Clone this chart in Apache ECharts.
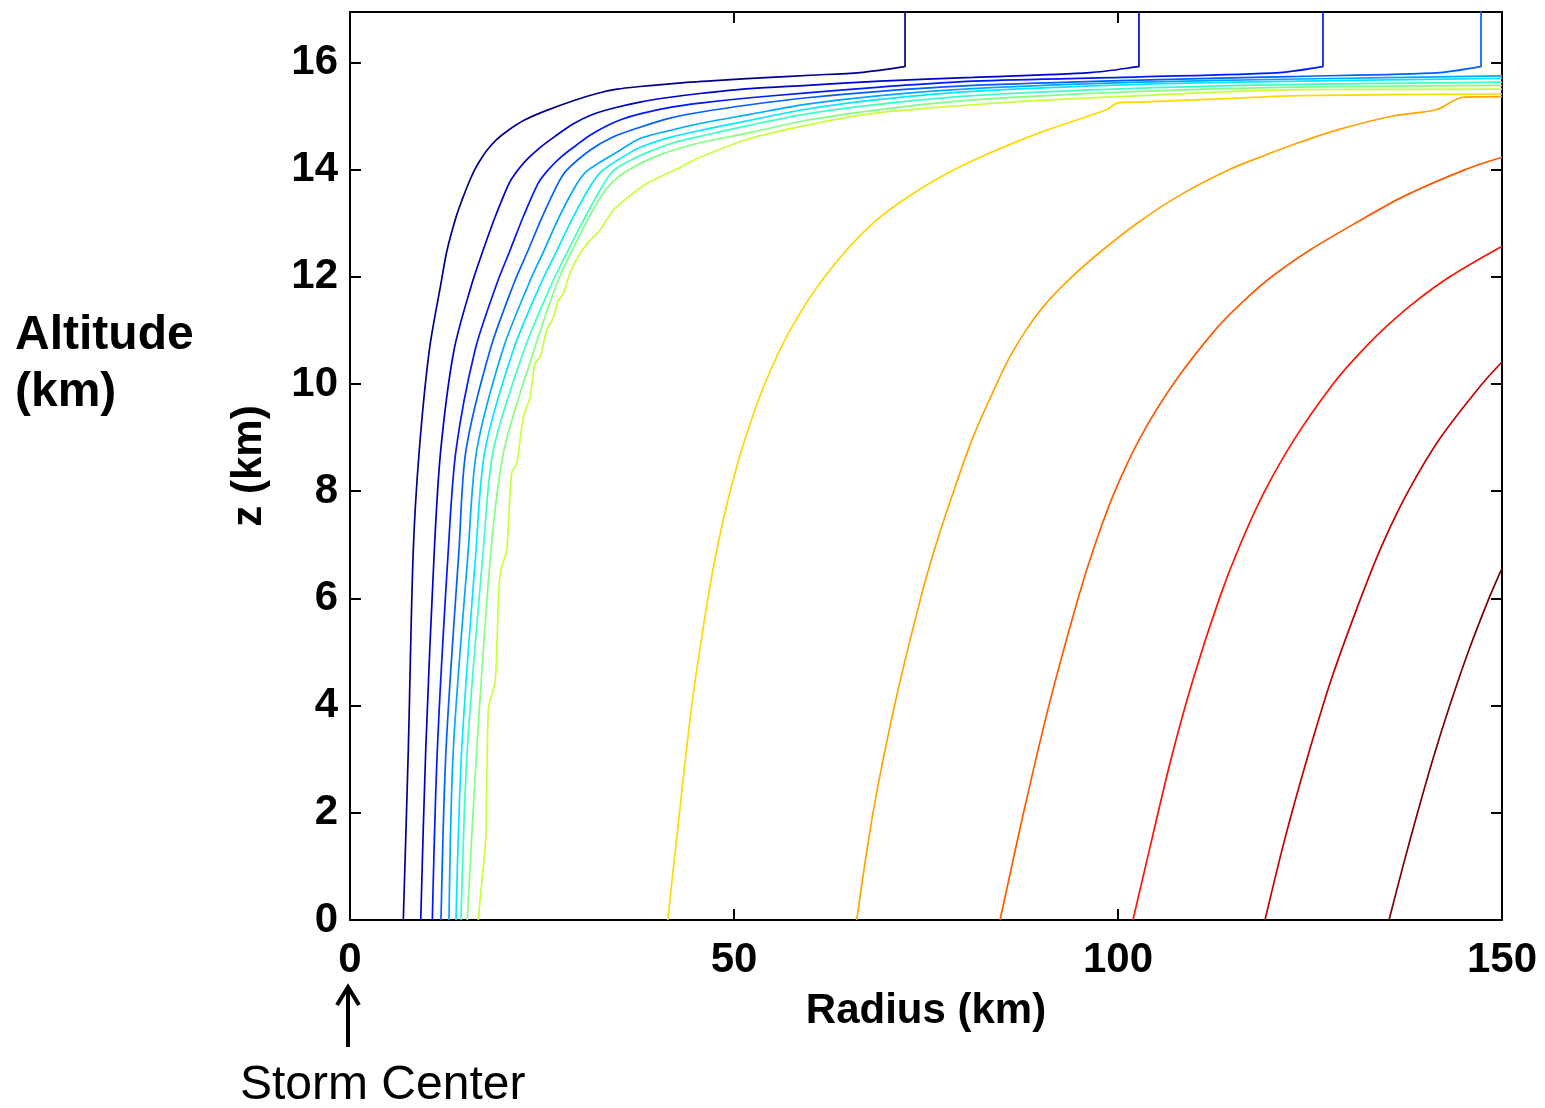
<!DOCTYPE html>
<html>
<head>
<meta charset="utf-8">
<script src="https://cdn.jsdelivr.net/npm/echarts@6/dist/echarts.min.js"></script>
<style>
  html, body { margin: 0; padding: 0; background: #ffffff; }
  #chart { width: 1545px; height: 1108px; }
</style>
</head>
<body>
<div id="chart"></div>
<script>
// Angular-momentum contours of the storm, each as [radius (km), altitude (km)] pairs.
// Innermost contour first; the first four turn upward into the stratosphere.
const contour01 = [[6.94,0],[7.59,3.17],[8.24,6.90],[9.02,8.76],[10.33,10.63],[11.85,11.88],[12.63,12.49],[13.80,13.11],[14.58,13.43],[15.43,13.74],[16.21,13.99],[16.93,14.17],[17.84,14.36],[19.01,14.55],[20.57,14.73],[22.66,14.92],[25.52,15.10],[29.17,15.29],[32.16,15.42],[34.77,15.50],[37.76,15.55],[42.32,15.61],[47.53,15.66],[54.69,15.72],[59.90,15.76],[66.41,15.81],[72.2,15.92],[72.27,15.93],[72.27,15.96],[72.27,17.2]];
const contour02 = [[9.21,0],[9.86,3.17],[10.98,6.90],[11.81,8.76],[13.54,10.63],[15.89,11.88],[17.32,12.49],[18.88,13.11],[20.70,13.74],[21.74,13.97],[23.05,14.19],[24.74,14.41],[26.69,14.62],[29.04,14.85],[31.25,15.01],[34.11,15.14],[37.76,15.26],[41.67,15.35],[45.57,15.42],[52.08,15.51],[59.51,15.57],[69.01,15.65],[81.12,15.72],[96.35,15.81],[102.66,15.92],[102.73,15.93],[102.73,15.96],[102.73,17.2]];
const contour03 = [[10.72,0],[11.37,3.17],[12.80,6.90],[13.80,8.76],[16.28,10.63],[19.14,11.88],[20.83,12.49],[22.53,13.11],[24.48,13.74],[25.78,13.99],[27.60,14.25],[29.43,14.45],[31.25,14.64],[33.33,14.81],[35.42,14.94],[37.76,15.04],[41.67,15.16],[45.57,15.24],[52.08,15.34],[59.51,15.43],[69.01,15.54],[81.12,15.65],[102.86,15.73],[121.09,15.81],[126.62,15.92],[126.69,15.93],[126.69,15.96],[126.69,17.2]];
const contour04 = [[11.85,0],[12.50,3.17],[14.19,6.90],[15.10,8.76],[18.23,10.63],[21.35,11.88],[23.18,12.49],[25.00,13.11],[27.08,13.74],[28.22,13.99],[31.25,14.36],[34.11,14.60],[37.76,14.79],[41.67,14.96],[45.57,15.07],[52.08,15.21],[59.51,15.34],[69.01,15.46],[81.12,15.57],[102.86,15.67],[123.70,15.74],[141.93,15.81],[147.2,15.92],[147.27,15.93],[147.27,15.96],[147.27,17.2]];
const contour05 = [[12.89,0],[13.45,3.17],[15.40,6.90],[16.50,8.76],[19.88,10.63],[23.31,11.88],[25.26,12.49],[27.21,13.11],[29.56,13.74],[30.99,13.99],[35.16,14.36],[37.76,14.58],[41.67,14.73],[45.57,14.86],[52.08,15.03],[59.51,15.22],[69.01,15.38],[81.12,15.51],[102.86,15.63],[123.70,15.69],[150,15.75]];
const contour06 = [[13.80,0],[14.54,3.17],[16.41,6.90],[17.58,8.76],[21.26,10.63],[24.87,11.88],[26.95,12.49],[29.04,13.11],[31.51,13.74],[32.94,13.99],[36.98,14.36],[38.41,14.45],[41.67,14.60],[45.57,14.73],[52.08,14.92],[59.51,15.13],[69.01,15.31],[81.12,15.46],[102.86,15.59],[123.70,15.65],[150,15.70]];
const contour07 = [[14.45,0],[15.27,3.17],[17.36,6.90],[18.66,8.76],[22.66,10.63],[26.30,11.88],[28.39,12.49],[30.60,13.11],[33.07,13.74],[34.38,13.99],[36.46,14.17],[39.06,14.34],[42.32,14.51],[45.57,14.62],[52.08,14.83],[59.51,15.04],[69.01,15.22],[81.12,15.38],[102.86,15.52],[123.70,15.59],[150,15.63]];
const contour08 = [[15.27,0],[16.50,3.17],[18.36,6.90],[20.05,8.76],[23.96,10.63],[26.95,11.88],[28.91,12.49],[31.12,13.11],[33.20,13.61],[34.90,13.86],[36.85,14.04],[39.06,14.20],[42.06,14.36],[45.57,14.50],[52.08,14.69],[59.51,14.92],[69.01,15.12],[81.12,15.30],[102.86,15.46],[123.70,15.54],[150,15.57]];
const contour09 = [[16.71,0],[16.93,0.37],[17.36,0.99],[17.71,1.62],[17.80,2.55],[18.01,3.92],[18.23,4.10],[18.88,4.42],[19.10,5.03],[19.44,6.28],[19.75,6.58],[20.40,6.90],[21.05,8.34],[21.71,8.52],[22.57,9.38],[23.44,9.75],[24.09,10.39],[24.74,10.50],[25.61,11.00],[26.47,11.24],[27.12,11.56],[27.77,11.69],[28.65,12.07],[29.95,12.44],[31.25,12.68],[32.55,12.87],[34.28,13.24],[36.89,13.56],[38.63,13.74],[42.97,14.04],[45.57,14.23],[52.08,14.58],[59.51,14.83],[68.10,15.05],[81.12,15.21],[89.84,15.29],[102.86,15.38],[123.70,15.49],[150,15.50]];
const contour10 = [[41.37,0],[42.9,2],[44.5,4],[46.6,6],[47.9,7],[49.5,8],[51.5,9],[54.0,10],[57.3,11],[61.8,12],[68.1,13],[74.61,13.67],[81.12,14.17],[89.84,14.69],[98.57,15.12],[99.87,15.24],[102.86,15.26],[114.97,15.33],[123.70,15.38],[150,15.41]];
const contour11 = [[65.98,0],[68.1,2],[70.9,4],[74.3,6],[76.3,7],[78.6,8],[81.1,9],[84.2,10],[85.9,10.5],[88.0,11],[90.6,11.5],[94.0,12],[98.0,12.5],[102.5,13],[107.8,13.5],[114.5,14],[118.8,14.25],[123.5,14.5],[128.8,14.75],[135.8,15],[141.5,15.12],[144.92,15.35],[150,15.36]];
const contour12 = [[84.64,0],[87.7,2],[91.0,4],[94.8,6],[97.0,7],[99.6,8],[102.9,9],[107.2,10],[112.6,11],[116.0,11.5],[120.0,12],[125.0,12.5],[130.9,13],[137.2,13.5],[145.2,14],[150,14.23]];
const contour13 = [[101.95,0],[104.4,1.5],[106.9,3],[109.8,4.5],[113.2,6],[115.9,7],[119.1,8],[123.1,9],[128.0,10],[131.0,10.5],[134.4,11],[138.4,11.5],[143.2,12],[150,12.57]];
const contour14 = [[119.14,0],[121.7,1.5],[124.6,3],[127.8,4.5],[131.6,6],[134.4,7],[137.8,8],[142.0,9],[147.4,10],[150,10.41]];
const contour15 = [[135.29,0],[137.1,1],[139.0,2],[141.0,3],[143.2,4],[145.6,5],[148.3,6],[150,6.56]];

const contours = [contour01, contour02, contour03, contour04, contour05, contour06, contour07, contour08,
                  contour09, contour10, contour11, contour12, contour13, contour14, contour15];

// jet colour ramp, one colour per contour level
const contourColors = ['#00008c', '#0000cc', '#0018ff', '#0060ff', '#00a8ff', '#00eaff', '#3cffc3', '#80ff80',
                       '#c8ff38', '#ffd800', '#ffa400', '#ff5a00', '#ff1400', '#c40000', '#800000'];

const radiusTicks = [0, 50, 100, 150];
const altitudeTicks = [0, 2, 4, 6, 8, 10, 12, 14, 16];
const altitudeTop = 16.94;

const FONT = '"Liberation Sans", Arial, Helvetica, sans-serif';

const chart = echarts.init(document.getElementById('chart'), null, { renderer: 'canvas' });

const tickStyle = { show: true, inside: true, length: 11, lineStyle: { color: '#000', width: 2 } };

function xAxisCfg(position, showLabels) {
  return {
    type: 'value', position: position,
    min: radiusTicks[0], max: radiusTicks[radiusTicks.length - 1],
    interval: radiusTicks[1] - radiusTicks[0],
    axisLine: { show: true, onZero: false, lineStyle: { color: '#000', width: 2 } },
    axisTick: tickStyle, splitLine: { show: false },
    axisLabel: { show: showLabels, color: '#000', fontFamily: FONT, fontWeight: 'bold', fontSize: 42, margin: 19 },
    name: showLabels ? 'Radius (km)' : '', nameLocation: 'middle', nameGap: 70,
    nameTextStyle: { color: '#000', fontFamily: FONT, fontWeight: 'bold', fontSize: 42 }
  };
}
function yAxisCfg(position, showLabels) {
  return {
    type: 'value', position: position,
    min: altitudeTicks[0], max: altitudeTop,
    interval: altitudeTicks[1] - altitudeTicks[0],
    axisLine: { show: true, onZero: false, lineStyle: { color: '#000', width: 2 } },
    axisTick: tickStyle, splitLine: { show: false },
    axisLabel: { show: showLabels, color: '#000', fontFamily: FONT, fontWeight: 'bold', fontSize: 42, margin: 12,
                 showMaxLabel: false },
    name: showLabels ? 'z (km)' : '', nameLocation: 'middle', nameGap: 80, nameRotate: 90,
    nameTextStyle: { color: '#000', fontFamily: FONT, fontWeight: 'bold', fontSize: 42 }
  };
}

const series = contours.map((pts, i) => ({
  type: 'line',
  data: pts,
  xAxisIndex: 0, yAxisIndex: 0,
  showSymbol: false, symbol: 'none',
  smooth: 0.3, clip: true,
  lineStyle: { color: contourColors[i], width: 1.7 },
  z: 3,
  silent: true
}));

chart.setOption({
  animation: false,
  backgroundColor: '#ffffff',
  grid: { left: 350, top: 12, width: 1152, height: 908, containLabel: false, show: false },
  xAxis: [xAxisCfg('bottom', true), xAxisCfg('top', false)],
  yAxis: [yAxisCfg('left', true), yAxisCfg('right', false)],
  series: series,
  graphic: [
    { type: 'text', silent: true,
      style: { text: 'Altitude', x: 15, y: 336, font: 'bold 48px ' + FONT, fill: '#000',
               textAlign: 'left', textVerticalAlign: 'middle', align: 'left', verticalAlign: 'middle' } },
    { type: 'text', silent: true,
      style: { text: '(km)', x: 15, y: 393, font: 'bold 48px ' + FONT, fill: '#000',
               textAlign: 'left', textVerticalAlign: 'middle', align: 'left', verticalAlign: 'middle' } },
    { type: 'text', silent: true,
      style: { text: 'Storm Center', x: 240, y: 1086, font: 'normal 48px ' + FONT, fill: '#000',
               textAlign: 'left', textVerticalAlign: 'middle', align: 'left', verticalAlign: 'middle' } },
    { type: 'line', silent: true,
      shape: { x1: 348, y1: 988, x2: 348, y2: 1047 },
      style: { stroke: '#000', lineWidth: 4 } },
    { type: 'polyline', silent: true,
      shape: { points: [[337, 1005], [348, 987], [359, 1005]] },
      style: { stroke: '#000', lineWidth: 4, fill: null, lineJoin: 'miter' } }
  ]
});
</script>
</body>
</html>
